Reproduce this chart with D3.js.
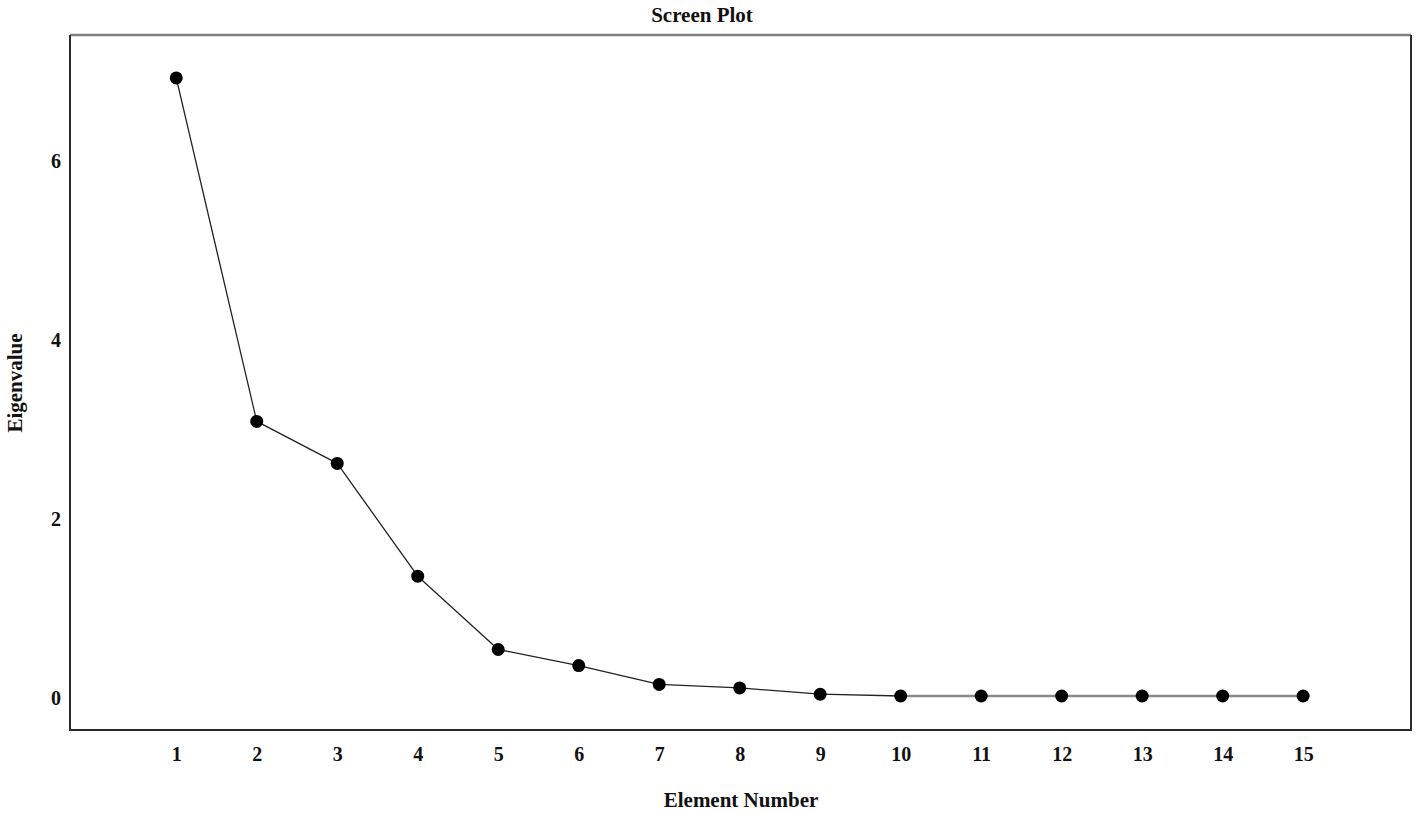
<!DOCTYPE html>
<html>
<head>
<meta charset="utf-8">
<script src="https://cdn.jsdelivr.net/npm/d3@7"></script>
<style>
  body { margin: 0; background: #ffffff; }
  text { font-family: "Liberation Serif", "Times New Roman", serif; font-weight: bold; fill: #111; }
</style>
</head>
<body>
<div id="scree"></div>
<script>
// scree plot: eigenvalue per element
const elements = [1, 2, 3, 4, 5, 6, 7, 8, 9, 10, 11, 12, 13, 14, 15];
const eigenvalues = [6.93, 3.09, 2.62, 1.36, 0.54, 0.36, 0.15, 0.11, 0.04, 0.02, 0.02, 0.02, 0.02, 0.02, 0.02];
const yTicks = [0, 2, 4, 6];
const title = "Screen Plot";
const xTitle = "Element Number";
const yTitle = "Eigenvalue";

const width = 1418, height = 813;
const frame = {left: 70, right: 1411, top: 35, bottom: 730};

const svg = d3.select("#scree").append("svg")
    .attr("width", width)
    .attr("height", height);

let xScale = d3.scaleLinear()
    .domain([-0.32, 16.34])
    .range([frame.left, frame.right]);

let yScale = d3.scaleLinear()
    .domain([-0.36, 7.41])
    .range([frame.bottom, frame.top]);

// axes, ticks hidden, labels only
let xAxis = d3.axisBottom(xScale).tickValues(elements).tickSize(0).tickPadding(0).tickFormat(d3.format("d"));
let gx = svg.append("g")
    .attr("transform", `translate(0,${frame.bottom})`)
    .call(xAxis);
gx.select(".domain").remove();
gx.selectAll("text")
    .attr("y", 31)
    .attr("dy", 0)
    .style("font-size", "20px");

let yAxis = d3.axisLeft(yScale).tickValues(yTicks).tickSize(0).tickPadding(9);
let gy = svg.append("g")
    .attr("transform", `translate(${frame.left},0)`)
    .call(yAxis);
gy.select(".domain").remove();
gy.selectAll("text")
    .style("font-size", "20px");

// frame
svg.append("line")
    .attr("x1", frame.left).attr("x2", frame.right)
    .attr("y1", frame.top).attr("y2", frame.top)
    .style("stroke", "#808080").style("stroke-width", 2.5);
svg.append("path")
    .attr("d", `M${frame.left},${frame.top} V${frame.bottom} H${frame.right} V${frame.top}`)
    .style("fill", "none")
    .style("stroke", "#2a2a2a")
    .style("stroke-width", 2);

// line segments (grey where the tail flattens out)
let pts = elements.map((e, i) => ({x: e, y: eigenvalues[i]}));
let segs = d3.pairs(pts);
svg.selectAll(".seg").data(segs).enter().append("line")
    .attr("class", "seg")
    .attr("x1", d => xScale(d[0].x))
    .attr("y1", d => yScale(d[0].y))
    .attr("x2", d => xScale(d[1].x))
    .attr("y2", d => yScale(d[1].y))
    .style("stroke", d => d[0].x >= 10 ? "#8a8a8a" : "#222")
    .style("stroke-width", d => d[0].x >= 10 ? 2.4 : 1.3);

svg.selectAll(".pt").data(pts).enter().append("circle")
    .attr("class", "pt")
    .attr("cx", d => xScale(d.x))
    .attr("cy", d => yScale(d.y))
    .attr("r", 6.5)
    .style("fill", "#000");

// titles
svg.append("text")
    .attr("x", 702).attr("y", 22)
    .attr("text-anchor", "middle")
    .style("font-size", "21px")
    .text(title);

svg.append("text")
    .attr("x", 741).attr("y", 807)
    .attr("text-anchor", "middle")
    .style("font-size", "21px")
    .text(xTitle);

svg.append("text")
    .attr("transform", "translate(22,383) rotate(-90)")
    .attr("text-anchor", "middle")
    .style("font-size", "21px")
    .text(yTitle);
</script>
</body>
</html>
